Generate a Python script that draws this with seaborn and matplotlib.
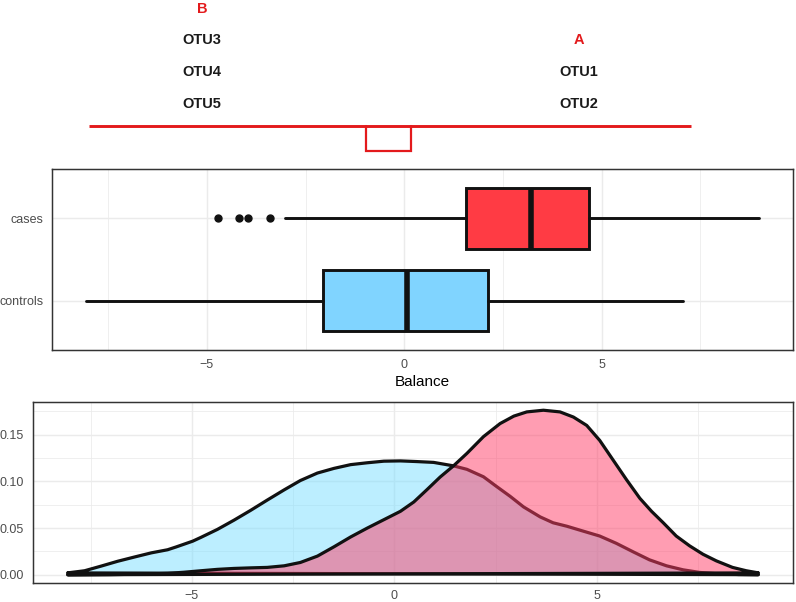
import numpy as np
import matplotlib
matplotlib.use("Agg")
import matplotlib.pyplot as plt
from matplotlib.ticker import FixedLocator, FormatStrFormatter
import seaborn as sns

# balance tree (top panel)
group_names = ["B", "A"]
group_otus = [["OTU3", "OTU4", "OTU5"], ["OTU1", "OTU2"]]

# boxplot summaries of the balance per group
box_groups = ["cases", "controls"]
box_q1 = [1.56, -2.05]
box_med = [3.21, 0.06]
box_q3 = [4.68, 2.11]
box_whislo = [-3.03, -8.07]
box_whishi = [8.99, 7.06]
box_fliers = [[-4.73, -4.18, -3.95, -3.39], []]
box_fill = ["#FF3B44", "#80D4FF"]

# density curves
ctrl_x = [-8.07, -7.65, -7.24, -6.83, -6.42, -6.0, -5.6, -5.39, -4.98, -4.78, -4.37, -3.96,
          -3.55, -3.14, -2.72, -2.32, -1.9, -1.49, -1.08, -0.67, -0.26, 0.15, 0.55, 0.97,
          1.46, 1.79, 2.2, 2.52, 2.86, 3.19, 3.6, 3.92, 4.26, 4.66, 5.07, 5.48, 5.9, 6.3,
          6.72, 7.13, 7.54, 8.0, 8.5, 8.99]
ctrl_y = [0.002, 0.0043, 0.0093, 0.0145, 0.019, 0.0235, 0.0268, 0.0298, 0.036, 0.040, 0.0486, 0.0585,
          0.069, 0.080, 0.091, 0.101, 0.109, 0.114, 0.118, 0.120, 0.1217, 0.122, 0.1213, 0.1204,
          0.1167, 0.113, 0.105, 0.0947, 0.084, 0.0727, 0.062, 0.0557, 0.052, 0.0468, 0.0415, 0.0337, 0.0245, 0.016,
          0.0096, 0.0053, 0.0025, 0.001, 0.0003, 0.0001]
case_x = [-8.07, -7.0, -6.3, -5.6, -5.2, -4.78, -4.37, -3.96, -3.55, -3.14, -2.72, -2.32, -1.9,
          -1.49, -1.08, -0.67, -0.26, 0.15, 0.48, 0.8, 1.13, 1.46, 1.79, 2.2, 2.61, 2.95, 3.27,
          3.68, 4.09, 4.42, 4.75, 5.07, 5.4, 5.73, 6.06, 6.35, 6.64, 6.96, 7.29, 7.62, 7.95,
          8.35, 8.69, 8.99]
case_y = [0.0, 0.0002, 0.0006, 0.0015, 0.0027, 0.0043, 0.0058, 0.0068, 0.0074, 0.0079, 0.0096, 0.0132, 0.020,
          0.030, 0.0405, 0.050, 0.059, 0.068, 0.078, 0.091, 0.1047, 0.1167, 0.130, 0.148, 0.162, 0.170, 0.1745,
          0.1763, 0.1745, 0.169, 0.160, 0.144, 0.123, 0.102, 0.082, 0.068, 0.0557, 0.0415, 0.031, 0.022, 0.0149,
          0.0079, 0.0043, 0.002]

RED = "#E31A1C"
W, H = 796, 602

sns.set_style("white")
plt.rcParams["font.family"] = ["Liberation Sans", "DejaVu Sans"]

fig = plt.figure(figsize=(W / 100, H / 100), dpi=100)


def style_axes(ax):
    for s in ax.spines.values():
        s.set_color("#333333")
        s.set_linewidth(1.07)
    ax.tick_params(which="major", length=3.8, width=1.07, color="#333333",
                   labelsize=9, labelcolor="#4D4D4D", pad=2.5)
    ax.tick_params(which="minor", length=0)
    ax.grid(True, which="major", color="#EBEBEB", lw=1.07, zorder=0)
    ax.grid(True, which="minor", color="#EBEBEB", lw=0.55, zorder=0)
    ax.set_axisbelow(True)


# x range shared by both plots: data range plus 5%
all_vals = box_whislo + box_whishi + sum(box_fliers, [])
lo, hi = min(all_vals), max(all_vals)
pad = (hi - lo) * 0.05
xlim = (lo - pad, hi + pad)

# ---- top panel: balance tree ----
ax_top = fig.add_axes([0, 1 - 160 / H, 1, 160 / H])
ax_top.set_xlim(0, W)
ax_top.set_ylim(160, 0)
ax_top.axis("off")
col_x = [202, 579]
row_gap = 31.5
base_y = 103.5
for name, otus, cx in zip(group_names, group_otus, col_x):
    for k, otu in enumerate(reversed(otus)):
        ax_top.text(cx, base_y - k * row_gap, otu, ha="center", va="center",
                    fontsize=10.5, fontweight="bold", color="#1a1a1a")
    ax_top.text(cx, base_y - len(otus) * row_gap, name, ha="center", va="center",
                fontsize=10.5, fontweight="bold", color=RED)
ax_top.plot([89, 691], [126, 126], color=RED, lw=2.1, solid_capstyle="butt")
ax_top.plot([366, 366, 411, 411], [126, 150.5, 150.5, 126], color=RED, lw=1.6,
            solid_joinstyle="miter")

# ---- middle panel: boxplot ----
ax_box = fig.add_axes([52 / W, 1 - 350 / H, (793 - 52) / W, 181 / H])
style_axes(ax_box)
stats = []
for i, g in enumerate(box_groups):
    stats.append(dict(label=g, q1=box_q1[i], med=box_med[i], q3=box_q3[i],
                      whislo=box_whislo[i], whishi=box_whishi[i], fliers=box_fliers[i]))
pos = [2, 1]
bp = ax_box.bxp(stats, positions=pos, widths=0.75, orientation="horizontal",
                showcaps=False, patch_artist=True,
                boxprops=dict(lw=2.1, edgecolor="#111111"),
                whiskerprops=dict(lw=2.1, color="#111111"),
                medianprops=dict(lw=4.0, color="#111111", solid_capstyle="butt"),
                flierprops=dict(marker="o", markersize=5, markerfacecolor="#111111",
                                markeredgecolor="#111111"))
for patch, c in zip(bp["boxes"], box_fill):
    patch.set_facecolor(c)
ax_box.set_xlim(*xlim)
ax_box.set_ylim(0.4, 2.6)
ax_box.set_yticks(pos)
ax_box.set_yticklabels(box_groups)
ax_box.xaxis.set_major_locator(FixedLocator([-5, 0, 5]))
ax_box.xaxis.set_minor_locator(FixedLocator([-7.5, -2.5, 2.5, 7.5]))
ax_box.yaxis.set_minor_locator(FixedLocator([]))
ax_box.set_xlabel("Balance", fontsize=11, color="black", labelpad=3)

# ---- bottom panel: densities ----
ax_den = fig.add_axes([33 / W, 1 - 583 / H, 760 / W, 181 / H])
style_axes(ax_den)
ax_den.tick_params(axis="x", pad=1.5)
ax_den.fill(ctrl_x, ctrl_y, facecolor=(0.48, 0.87, 1.0, 0.5), edgecolor="#111111",
            lw=2.3, zorder=2, joinstyle="round")
ax_den.fill(case_x, case_y, facecolor=(1.0, 0.24, 0.40, 0.5), edgecolor="#111111",
            lw=2.3, zorder=3, joinstyle="round")
ymax = max(max(ctrl_y), max(case_y))
ax_den.set_xlim(*xlim)
ax_den.set_ylim(-0.05 * ymax, 1.05 * ymax)
ax_den.xaxis.set_major_locator(FixedLocator([-5, 0, 5]))
ax_den.xaxis.set_minor_locator(FixedLocator([-7.5, -2.5, 2.5, 7.5]))
ax_den.yaxis.set_major_locator(FixedLocator([0, 0.05, 0.10, 0.15]))
ax_den.yaxis.set_minor_locator(FixedLocator([0.025, 0.075, 0.125, 0.175]))
ax_den.yaxis.set_major_formatter(FormatStrFormatter("%.2f"))

fig.savefig("out.png", dpi=100)
